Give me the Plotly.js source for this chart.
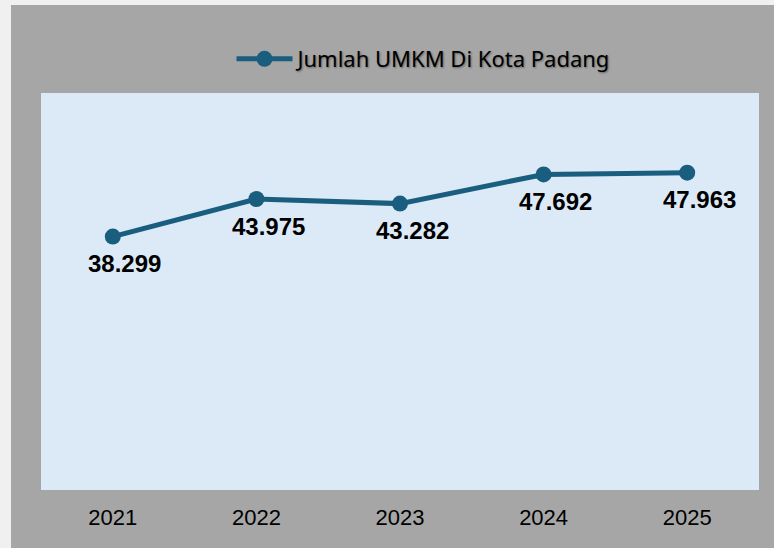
<!DOCTYPE html>
<html>
<head>
<meta charset="utf-8">
<script src="https://cdn.plot.ly/plotly-3.0.1.min.js"></script>
<style>
  html, body { margin: 0; padding: 0; background: #f0f0f0; width: 774px; height: 548px; overflow: hidden; }
  #chart { position: absolute; left: 11px; top: 5px; width: 763px; height: 543px; }
</style>
</head>
<body>
<div id="chart"></div>
<script>
const years = ['2021', '2022', '2023', '2024', '2025'];
const umkm = [38299, 43975, 43282, 47692, 47963];
const seriesName = 'Jumlah UMKM Di Kota Padang';

const lineColor = '#1a5e7f';

function fmt(v) {
  return String(v).replace(/\B(?=(\d{3})+(?!\d))/g, '.');
}

const trace = {
  x: years,
  y: umkm,
  type: 'scatter',
  mode: 'lines+markers',
  name: seriesName,
  line: { color: lineColor, width: 5 },
  marker: { color: lineColor, size: 16 },
  hoverinfo: 'skip'
};

const annotations = years.map((yr, i) => ({
  x: i,
  y: umkm[i],
  xref: 'x',
  yref: 'y',
  text: '<b>' + fmt(umkm[i]) + '</b>',
  showarrow: false,
  xanchor: 'center',
  yanchor: 'middle',
  xshift: 12,
  yshift: -27,
  font: { family: 'Liberation Sans, Arial, sans-serif', size: 24, color: '#000000' }
}));

const layout = {
  width: 763,
  height: 543,
  margin: { l: 30, r: 15, t: 88, b: 58 },
  paper_bgcolor: '#a6a6a6',
  plot_bgcolor: '#dce9f6',
  showlegend: true,
  legend: {
    orientation: 'h',
    xref: 'container',
    yref: 'container',
    x: 0.289,
    xanchor: 'left',
    y: 1 - 54 / 543,
    yanchor: 'middle',
    bgcolor: 'rgba(0,0,0,0)',
    itemwidth: 56,
    font: { family: 'Noto Sans, sans-serif', size: 22, color: '#000000', shadow: '1px 1px 2px rgba(0,0,0,0.4)' }
  },
  xaxis: {
    type: 'category',
    range: [-0.5, 4.5],
    showgrid: false,
    zeroline: false,
    showline: false,
    ticks: '',
    ticklabelstandoff: 12,
    tickfont: { family: 'Liberation Sans, Arial, sans-serif', size: 22, color: '#000000' },
    fixedrange: true
  },
  yaxis: {
    range: [0, 60000],
    showgrid: false,
    zeroline: false,
    showline: false,
    showticklabels: false,
    ticks: '',
    fixedrange: true
  },
  annotations: annotations
};

Plotly.newPlot('chart', [trace], layout, { displayModeBar: false, staticPlot: true });
</script>
</body>
</html>
